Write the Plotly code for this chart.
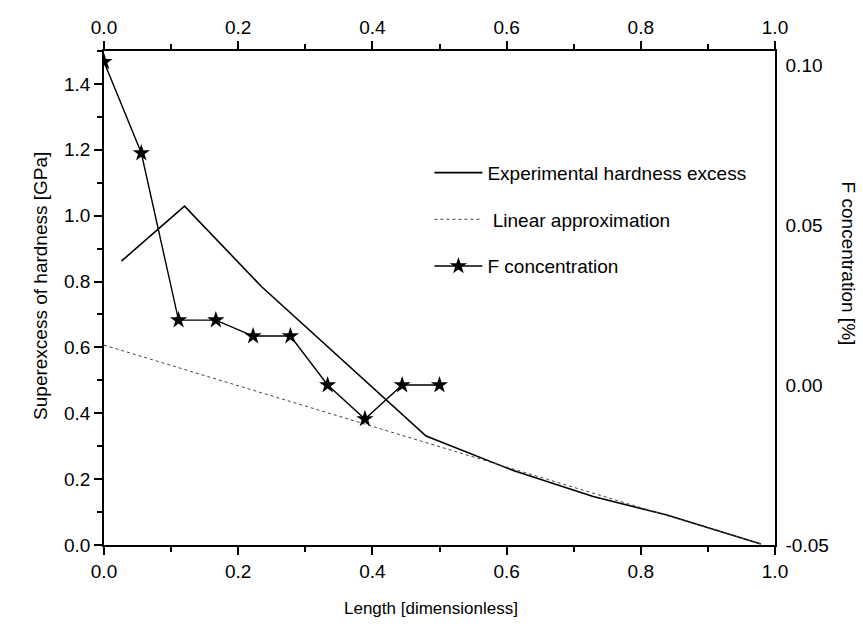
import plotly.graph_objects as go

# Experimental hardness excess (left axis, GPa)
exp_x = [0.026, 0.120, 0.235, 0.480, 0.610, 0.729, 0.839, 0.979]
exp_y = [0.862, 1.029, 0.784, 0.331, 0.226, 0.147, 0.091, 0.003]

# Linear approximation (left axis)
lin_x = [0.0, 0.979]
lin_y = [0.607, 0.003]

# F concentration (right axis, %)
f_x = [0.0, 0.0556, 0.1111, 0.1667, 0.2222, 0.2778, 0.3333, 0.3889, 0.4444, 0.5]
f_y = [0.101, 0.0725, 0.0203, 0.0203, 0.0153, 0.0153, 0.0, -0.0106, 0.0, 0.0]

x_ticks = [0.0, 0.2, 0.4, 0.6, 0.8, 1.0]
left_ticks = [0.0, 0.2, 0.4, 0.6, 0.8, 1.0, 1.2, 1.4]
right_ticks = [-0.05, 0.0, 0.05, 0.10]
right_labels = ["-0.05", "0.00", "0.05", "0.10"]

FONT = "Liberation Sans, Arial, sans-serif"

fig = go.Figure()
fig.add_trace(go.Scatter(x=exp_x, y=exp_y, mode="lines", name="Experimental hardness excess",
                         line=dict(color="black", width=1.6), legendgroup="a"))
fig.add_trace(go.Scatter(x=lin_x, y=lin_y, mode="lines", name=" Linear approximation",
                         line=dict(color="#444", width=1, dash="dot"), legendgroup="b"))
fig.add_trace(go.Scatter(x=f_x, y=f_y, mode="lines+markers", name="F concentration",
                         xaxis="x2", yaxis="y2",
                         line=dict(color="black", width=1.4),
                         marker=dict(symbol="star", size=13, color="black"), legendgroup="c"))

axis_common = dict(showline=True, linecolor="black", linewidth=1.5, showgrid=False,
                   zeroline=False, mirror=False,
                   tickfont=dict(family=FONT, size=19, color="black"))

fig.update_layout(
    width=863, height=624,
    margin=dict(l=104, r=88, t=51, b=79),
    paper_bgcolor="white", plot_bgcolor="white",
    font=dict(family=FONT, color="black"),
    showlegend=True,
    legend=dict(x=0.485, y=0.792, xanchor="left", yanchor="top",
                bgcolor="rgba(0,0,0,0)", borderwidth=0,
                font=dict(family=FONT, size=19, color="black"),
                tracegroupgap=19, itemwidth=48, traceorder="grouped"),
    xaxis=dict(range=[0, 1], tickvals=x_ticks, tickformat=".1f", ticks="outside",
               ticklen=8, tickwidth=1.5, tickcolor="black",
               minor=dict(dtick=0.1, ticks="outside", ticklen=5, tickwidth=1.5, tickcolor="black"),
               **axis_common),
    xaxis2=dict(range=[0, 1], overlaying="x", side="top", anchor="y",
                tickvals=x_ticks, tickformat=".1f", ticks="outside",
                ticklen=8, tickwidth=1.5, tickcolor="black",
                minor=dict(dtick=0.1, ticks="outside", ticklen=5, tickwidth=1.5, tickcolor="black"),
                **axis_common),
    yaxis=dict(range=[0, 1.5], tickvals=left_ticks, tickformat=".1f", ticks="outside",
               ticklen=8, tickwidth=1.5, tickcolor="black",
               minor=dict(dtick=0.1, ticks="outside", ticklen=5, tickwidth=1.5, tickcolor="black"),
               **axis_common),
    yaxis2=dict(range=[-0.05, 0.1044], overlaying="y", side="right", anchor="x",
                tickvals=right_ticks, ticktext=right_labels, ticks="outside",
                ticklen=5, tickcolor="rgba(0,0,0,0)",
                **axis_common),
    annotations=[
        dict(text="Length [dimensionless]", xref="paper", yref="paper",
             x=0.488, y=-0.128, xanchor="center", yanchor="middle", showarrow=False,
             font=dict(family=FONT, size=17, color="black")),
        dict(text="Superexcess of hardness [GPa]", xref="paper", yref="paper",
             x=-0.095, y=0.525, xanchor="center", yanchor="middle", showarrow=False,
             textangle=-90, font=dict(family=FONT, size=19, color="black")),
        dict(text="F concentration [%]", xref="paper", yref="paper",
             x=1.11, y=0.57, xanchor="center", yanchor="middle", showarrow=False,
             textangle=90, font=dict(family=FONT, size=19, color="black")),
    ],
)

fig.write_html("out.html")
